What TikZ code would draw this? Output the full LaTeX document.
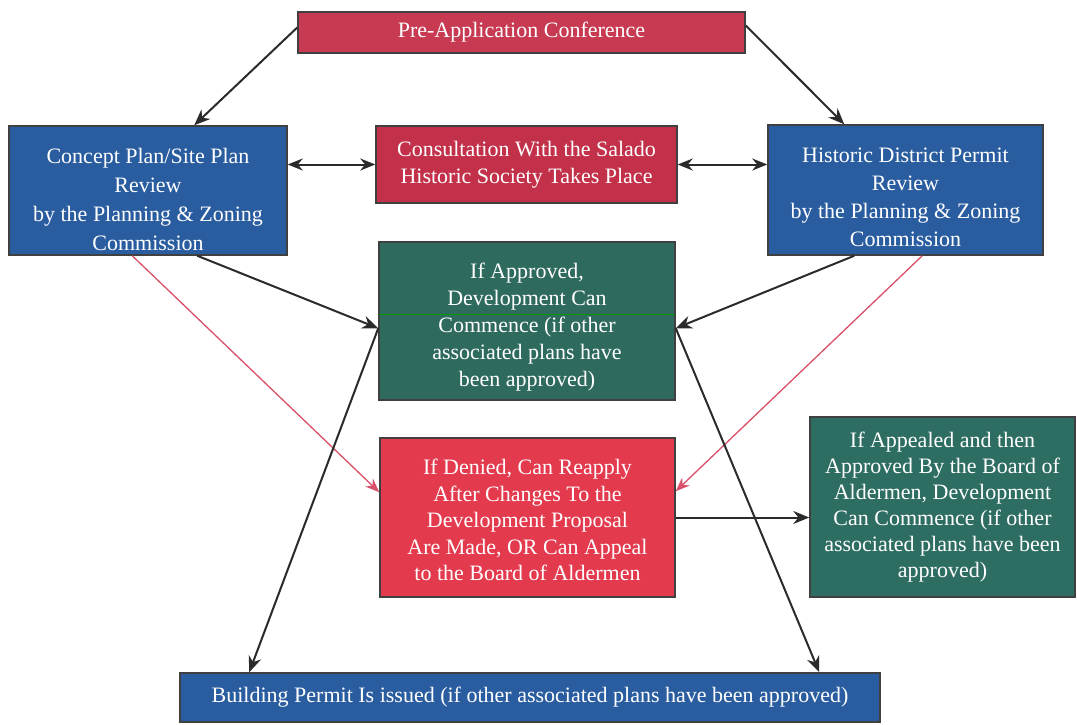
\documentclass[tikz,border=0pt]{standalone}
\usepackage{fontspec}
\setmainfont{Liberation Serif}
\usetikzlibrary{arrows.meta,calc}
\definecolor{prered}{HTML}{C73A52}
\definecolor{conred}{HTML}{C23049}
\definecolor{denred}{HTML}{E33A4E}
\definecolor{boxblue}{HTML}{2A5DA0}
\definecolor{boxgreen}{HTML}{2F6A5E}
\definecolor{apgreen}{HTML}{2E6E62}
\definecolor{linkred}{HTML}{D9506A}
\definecolor{linkblk}{HTML}{2B2B2B}
\tikzset{
  box/.style={draw=black!75, line width=1.5pt, align=center, text=white,
    inner sep=2pt, font=\fontsize{22}{27}\selectfont},
  boxtext/.style={align=center, text=white, inner sep=0pt},
  link/.style={draw=linkblk, line width=2pt, -{Stealth[length=16pt,width=13pt]}},
  dlink/.style={draw=linkblk, line width=2pt, {Stealth[length=15pt,width=12pt]}-{Stealth[length=15pt,width=12pt]}},
  redlink/.style={draw=linkred, line width=1.3pt, -{Stealth[length=14pt,width=11pt]}, color=linkred},
}
\begin{document}
\begin{tikzpicture}[x=1pt,y=-1pt]
\useasboundingbox[fill=white] (0,0) rectangle (1077,725);

\node[box, fill=prered, minimum width=447pt, minimum height=41pt] (pre) at (521.5,32.5) {Pre-Application Conference};

\node[box, fill=boxblue, minimum width=278pt, minimum height=129pt] (concept) at (148,190.5) {};
\node[boxtext, font=\fontsize{22}{29}\selectfont] (concepttext) at (148,199)
  {Concept Plan/Site Plan\\Review\\by the Planning \& Zoning\\Commission};

\node[box, fill=conred, minimum width=301pt, minimum height=77pt] (consult) at (526.5,164.5)
  {Consultation With the Salado\\Historic Society Takes Place};

\node[box, fill=boxblue, minimum width=275pt, minimum height=130pt] (hist) at (905.5,190) {};
\node[boxtext, font=\fontsize{22}{28}\selectfont] (histtext) at (905.5,197)
  {Historic District Permit\\Review\\by the Planning \& Zoning\\Commission};

\node[box, fill=boxgreen, minimum width=296pt, minimum height=158pt] (approved) at (527,321) {};
\draw[color=green!60!black, line width=0.8pt] ($(approved.north west)+(1,73)$) -- ($(approved.north east)+(-1,73)$);
\node[boxtext, font=\fontsize{22}{27}\selectfont] (approvedtext) at (527,327)
  {If Approved,\\Development Can\\Commence (if other\\associated plans have\\been approved)};

\node[box, fill=denred, minimum width=295pt, minimum height=159pt] (denied) at (527.5,517.5) {};
\node[boxtext, font=\fontsize{22}{26.5}\selectfont] (deniedtext) at (527.5,520)
  {If Denied, Can Reapply\\After Changes To the\\Development Proposal\\Are Made, OR Can Appeal\\to the Board of Aldermen};

\node[box, fill=apgreen, minimum width=265pt, minimum height=180pt, font=\fontsize{22}{26}\selectfont] (appealed) at (942.5,507)
  {If Appealed and then\\Approved By the Board of\\Aldermen, Development\\Can Commence (if other\\associated plans have been\\approved)};

\node[box, fill=boxblue, minimum width=700pt, minimum height=49pt] (building) at (530,697.5)
  {Building Permit Is issued (if other associated plans have been approved)};

% connectors
\draw[link] ([yshift=5pt]pre.west) -- ($(concept.north west)+(186,0)$);
\draw[link] ([yshift=7pt]pre.east) -- ($(hist.north west)+(77,0)$);
\draw[dlink] (concept.east |- consult.west) -- (consult.west);
\draw[dlink] (consult.east) -- (consult.east -| hist.west);

\coordinate (aL) at ($(approved.north west)+(0,87)$);
\coordinate (aR) at ($(approved.north east)+(0,87)$);
\draw[link] ($(concept.south west)+(189,0)$) -- (aL);
\draw[link] ($(hist.south west)+(87,0)$) -- (aR);
\draw[redlink] ($(concept.south west)+(124,0)$) -- ($(denied.north west)+(0,55)$);
\draw[redlink] ($(hist.south west)+(155,0)$) -- ($(denied.north east)+(0,54)$);
\draw[link] (aL) -- ($(building.north west)+(70,0)$);
\draw[link] (aR) -- ($(building.north west)+(640,0)$);
\draw[link] (denied.east) -- (denied.east -| appealed.west);
\end{tikzpicture}
\end{document}
